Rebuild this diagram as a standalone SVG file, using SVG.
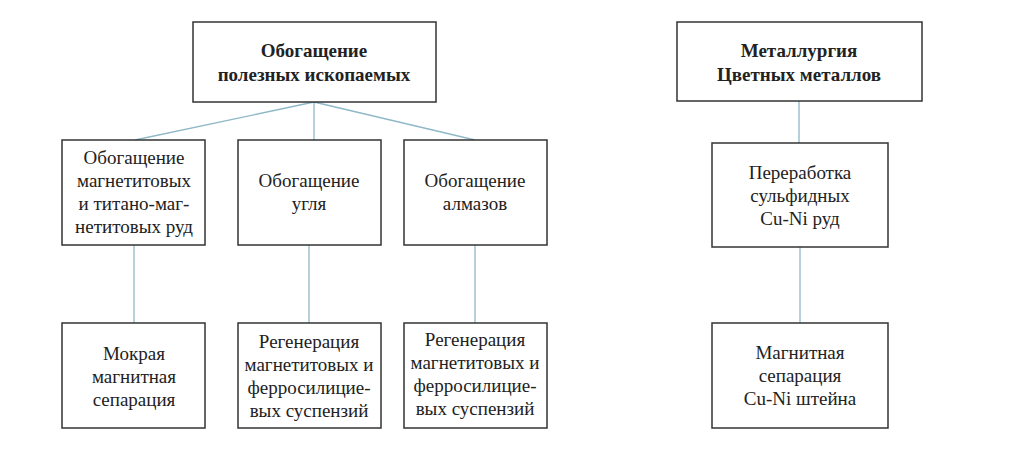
<svg xmlns="http://www.w3.org/2000/svg" width="1024" height="472" viewBox="0 0 1024 472">
<style>
rect{fill:#fff;stroke:#333;stroke-width:1.5}
text{font-family:'Liberation Serif','Times New Roman','DejaVu Serif',serif;font-size:19px;fill:#222;text-anchor:middle}
.b{font-weight:bold}
#edges line{stroke:#8fb8c8;stroke-width:1.3}
</style>
<rect x="0" y="0" width="1024" height="472" style="stroke:none"/>
<g id="edges">
<line x1="314" y1="102" x2="135" y2="140"/>
<line x1="314" y1="102" x2="314" y2="140"/>
<line x1="314" y1="102" x2="475" y2="140"/>
<line x1="134" y1="245" x2="134" y2="323"/>
<line x1="309" y1="245" x2="309" y2="323"/>
<line x1="475" y1="245" x2="475" y2="323"/>
<line x1="799" y1="101" x2="799" y2="143"/>
<line x1="800" y1="247" x2="800" y2="323"/>
</g>
<g id="n1"><rect x="193" y="22" width="243" height="80"/><text class="b" x="314" y="57">Обогащение</text><text class="b" x="314" y="81">полезных ископаемых</text></g>
<g id="n2"><rect x="62" y="140" width="143" height="105"/><text x="134" y="164">Обогащение</text><text x="134" y="187">магнетитовых</text><text x="134" y="210">и титано-маг-</text><text x="134" y="233">нетитовых руд</text></g>
<g id="n3"><rect x="238" y="140" width="143" height="105"/><text x="309" y="187">Обогащение</text><text x="309" y="210">угля</text></g>
<g id="n4"><rect x="404" y="140" width="143" height="105"/><text x="475" y="187">Обогащение</text><text x="475" y="210">алмазов</text></g>
<g id="n5"><rect x="62" y="323" width="143" height="105"/><text x="134" y="360">Мокрая</text><text x="134" y="383">магнитная</text><text x="134" y="406">сепарация</text></g>
<g id="n6"><rect x="238" y="323" width="143" height="105"/><text x="309" y="348">Регенерация</text><text x="309" y="371">магнетитовых и</text><text x="309" y="394">ферросилицие-</text><text x="309" y="417">вых суспензий</text></g>
<g id="n7"><rect x="404" y="323" width="143" height="105"/><text x="475" y="346">Регенерация</text><text x="475" y="369">магнетитовых и</text><text x="475" y="392">ферросилицие-</text><text x="475" y="415">вых суспензий</text></g>
<g id="n8"><rect x="677" y="22" width="245" height="79"/><text class="b" x="799" y="57">Металлургия</text><text class="b" x="799" y="81">Цветных металлов</text></g>
<g id="n9"><rect x="712" y="143" width="176" height="104"/><text x="800" y="179">Переработка</text><text x="800" y="202">сульфидных</text><text x="800" y="225">Cu-Ni руд</text></g>
<g id="n10"><rect x="712" y="323" width="176" height="105"/><text x="800" y="359">Магнитная</text><text x="800" y="382">сепарация</text><text x="800" y="405">Cu-Ni штейна</text></g>
</svg>
